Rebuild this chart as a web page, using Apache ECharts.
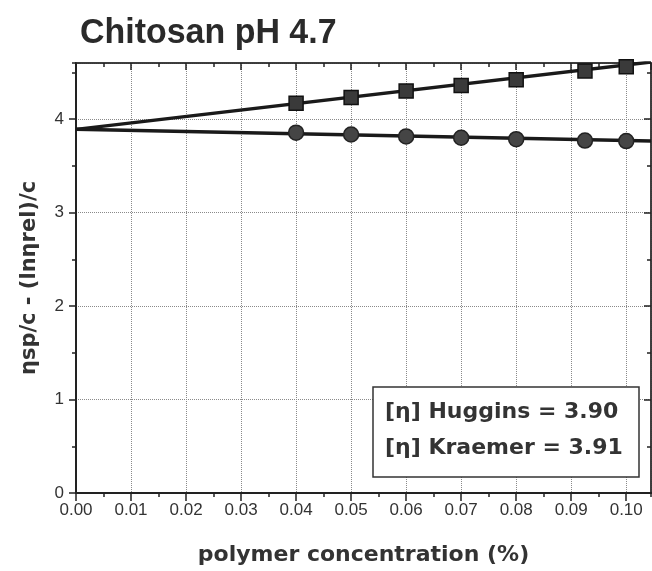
<!DOCTYPE html>
<html><head><meta charset="utf-8">
<script src="https://cdn.jsdelivr.net/npm/echarts@6/dist/echarts.min.js"></script>
<style>html,body{margin:0;padding:0;background:#fff}#c{width:652px;height:571px}</style>
</head><body><div id="c"></div>
<script>
// ---- data ----
const titleText = 'Chitosan pH 4.7';
const xName = 'polymer concentration (%)';
const yName = 'ηsp/c - (lnηrel)/c';
const conc = [0.04, 0.05, 0.06, 0.07, 0.08, 0.0925, 0.10];
const huggins = [4.17, 4.23, 4.30, 4.36, 4.42, 4.515, 4.56];
const kraemer = [3.855, 3.835, 3.815, 3.80, 3.785, 3.77, 3.765];
const fitX = [0, 0.1045];
const hugginsFit = [3.89, 4.61];
const kraemerFit = [3.89, 3.765];
const boxLines = ['[η] Huggins = 3.90', '[η] Kraemer = 3.91'];
const xRange = [0, 0.1045];
const yRange = [0, 4.6];

// ---- chart ----
const chart = echarts.init(document.getElementById('c'), null, {renderer: 'canvas'});
const axCol = '#222';
const gridCol = '#8a8a8a';
const tickFont = {fontFamily: 'Liberation Sans', fontSize: 17, color: '#333'};
const boldFont = {fontFamily: 'DejaVu Sans', fontWeight: 'bold', color: '#333'};

function xAx(o) {
  return Object.assign({type: 'value', min: xRange[0], max: xRange[1], gridIndex: 0,
    axisLine: {onZero: false, lineStyle: {color: axCol, width: 2}},
    axisLabel: {show: false}, splitLine: {show: false}}, o);
}
function yAx(o) {
  return Object.assign({type: 'value', min: yRange[0], max: yRange[1], gridIndex: 0,
    axisLine: {onZero: false, lineStyle: {color: axCol, width: 2}},
    axisLabel: {show: false}, splitLine: {show: false}}, o);
}

const option = {
  animation: false,
  backgroundColor: '#fff',
  grid: {left: 76, right: 1, top: 63, bottom: 75},
  xAxis: [
    xAx({position: 'bottom', interval: 0.01,
      axisTick: {length: 8, lineStyle: {color: axCol, width: 1.5}},
      axisLabel: Object.assign({show: true, margin: 9, showMaxLabel: false,
        formatter: v => v.toFixed(2)}, tickFont),
      splitLine: {show: true, lineStyle: {color: gridCol, type: 'dotted', width: 1}},
      name: xName, nameLocation: 'middle', nameGap: 51,
      nameTextStyle: Object.assign({fontSize: 22}, boldFont)}),
    xAx({position: 'bottom', interval: 0.005,
      axisTick: {length: 4, lineStyle: {color: axCol, width: 1.5}}}),
    xAx({position: 'top', interval: 0.01, axisLine: {onZero: false, lineStyle: {color: '#333', width: 1.5}},
      axisTick: {inside: true, length: 7, lineStyle: {color: axCol, width: 1.5}}}),
    xAx({position: 'top', interval: 0.005, axisLine: {onZero: false, lineStyle: {color: '#333', width: 1.5}},
      axisTick: {inside: true, length: 4, lineStyle: {color: axCol, width: 1.5}}})
  ],
  yAxis: [
    yAx({position: 'left', interval: 1,
      axisTick: {length: 7, lineStyle: {color: axCol, width: 1.5}},
      axisLabel: Object.assign({show: true, margin: 12, showMaxLabel: false}, tickFont),
      splitLine: {show: true, lineStyle: {color: gridCol, type: 'dotted', width: 1}},
      name: yName, nameLocation: 'middle', nameGap: 36,
      nameTextStyle: Object.assign({fontSize: 21}, boldFont)}),
    yAx({position: 'left', interval: 0.5,
      axisTick: {length: 4, lineStyle: {color: axCol, width: 1.5}}}),
    yAx({position: 'right', interval: 1, axisLine: {onZero: false, lineStyle: {color: '#333', width: 1.5}},
      axisTick: {inside: true, length: 7, lineStyle: {color: axCol, width: 1.5}}}),
    yAx({position: 'right', interval: 0.5, axisLine: {onZero: false, lineStyle: {color: '#333', width: 1.5}},
      axisTick: {inside: true, length: 4, lineStyle: {color: axCol, width: 1.5}}})
  ],
  series: [
    {type: 'line', name: 'Huggins fit', xAxisIndex: 0, yAxisIndex: 0, symbol: 'none',
      data: fitX.map((x, i) => [x, hugginsFit[i]]),
      lineStyle: {color: '#1a1a1a', width: 3.5}, z: 3},
    {type: 'line', name: 'Kraemer fit', xAxisIndex: 0, yAxisIndex: 0, symbol: 'none',
      data: fitX.map((x, i) => [x, kraemerFit[i]]),
      lineStyle: {color: '#1a1a1a', width: 3.5}, z: 3},
    {type: 'scatter', name: 'Huggins', xAxisIndex: 0, yAxisIndex: 0, symbol: 'rect', symbolSize: 14,
      data: conc.map((x, i) => [x, huggins[i]]),
      itemStyle: {color: '#3a3a3a', borderColor: '#111', borderWidth: 1.5, opacity: 1}, z: 4},
    {type: 'scatter', name: 'Kraemer', xAxisIndex: 0, yAxisIndex: 0, symbol: 'circle', symbolSize: 15,
      data: conc.map((x, i) => [x, kraemer[i]]),
      itemStyle: {color: '#454545', borderColor: '#222', borderWidth: 1.5, opacity: 1}, z: 4}
  ],
  graphic: [
    {type: 'text', x: 80, y: 33, scaleX: 0.97,
      style: {text: titleText, fontFamily: 'Liberation Sans', fontWeight: 'bold', fontSize: 35,
        fill: '#2a2a2a', verticalAlign: 'middle', align: 'left'}},
    {type: 'rect', shape: {x: 373, y: 387, width: 266, height: 90}, z: 10,
      style: {fill: '#fff', stroke: '#333', lineWidth: 1.5}},
    {type: 'text', x: 385, y: 412, z: 11,
      style: {text: boxLines[0], fontFamily: 'DejaVu Sans', fontWeight: 'bold', fontSize: 22,
        fill: '#333', verticalAlign: 'middle', align: 'left'}},
    {type: 'text', x: 385, y: 448, z: 11,
      style: {text: boxLines[1], fontFamily: 'DejaVu Sans', fontWeight: 'bold', fontSize: 22,
        fill: '#333', verticalAlign: 'middle', align: 'left'}}
  ]
};
chart.setOption(option);
</script>
</body></html>
